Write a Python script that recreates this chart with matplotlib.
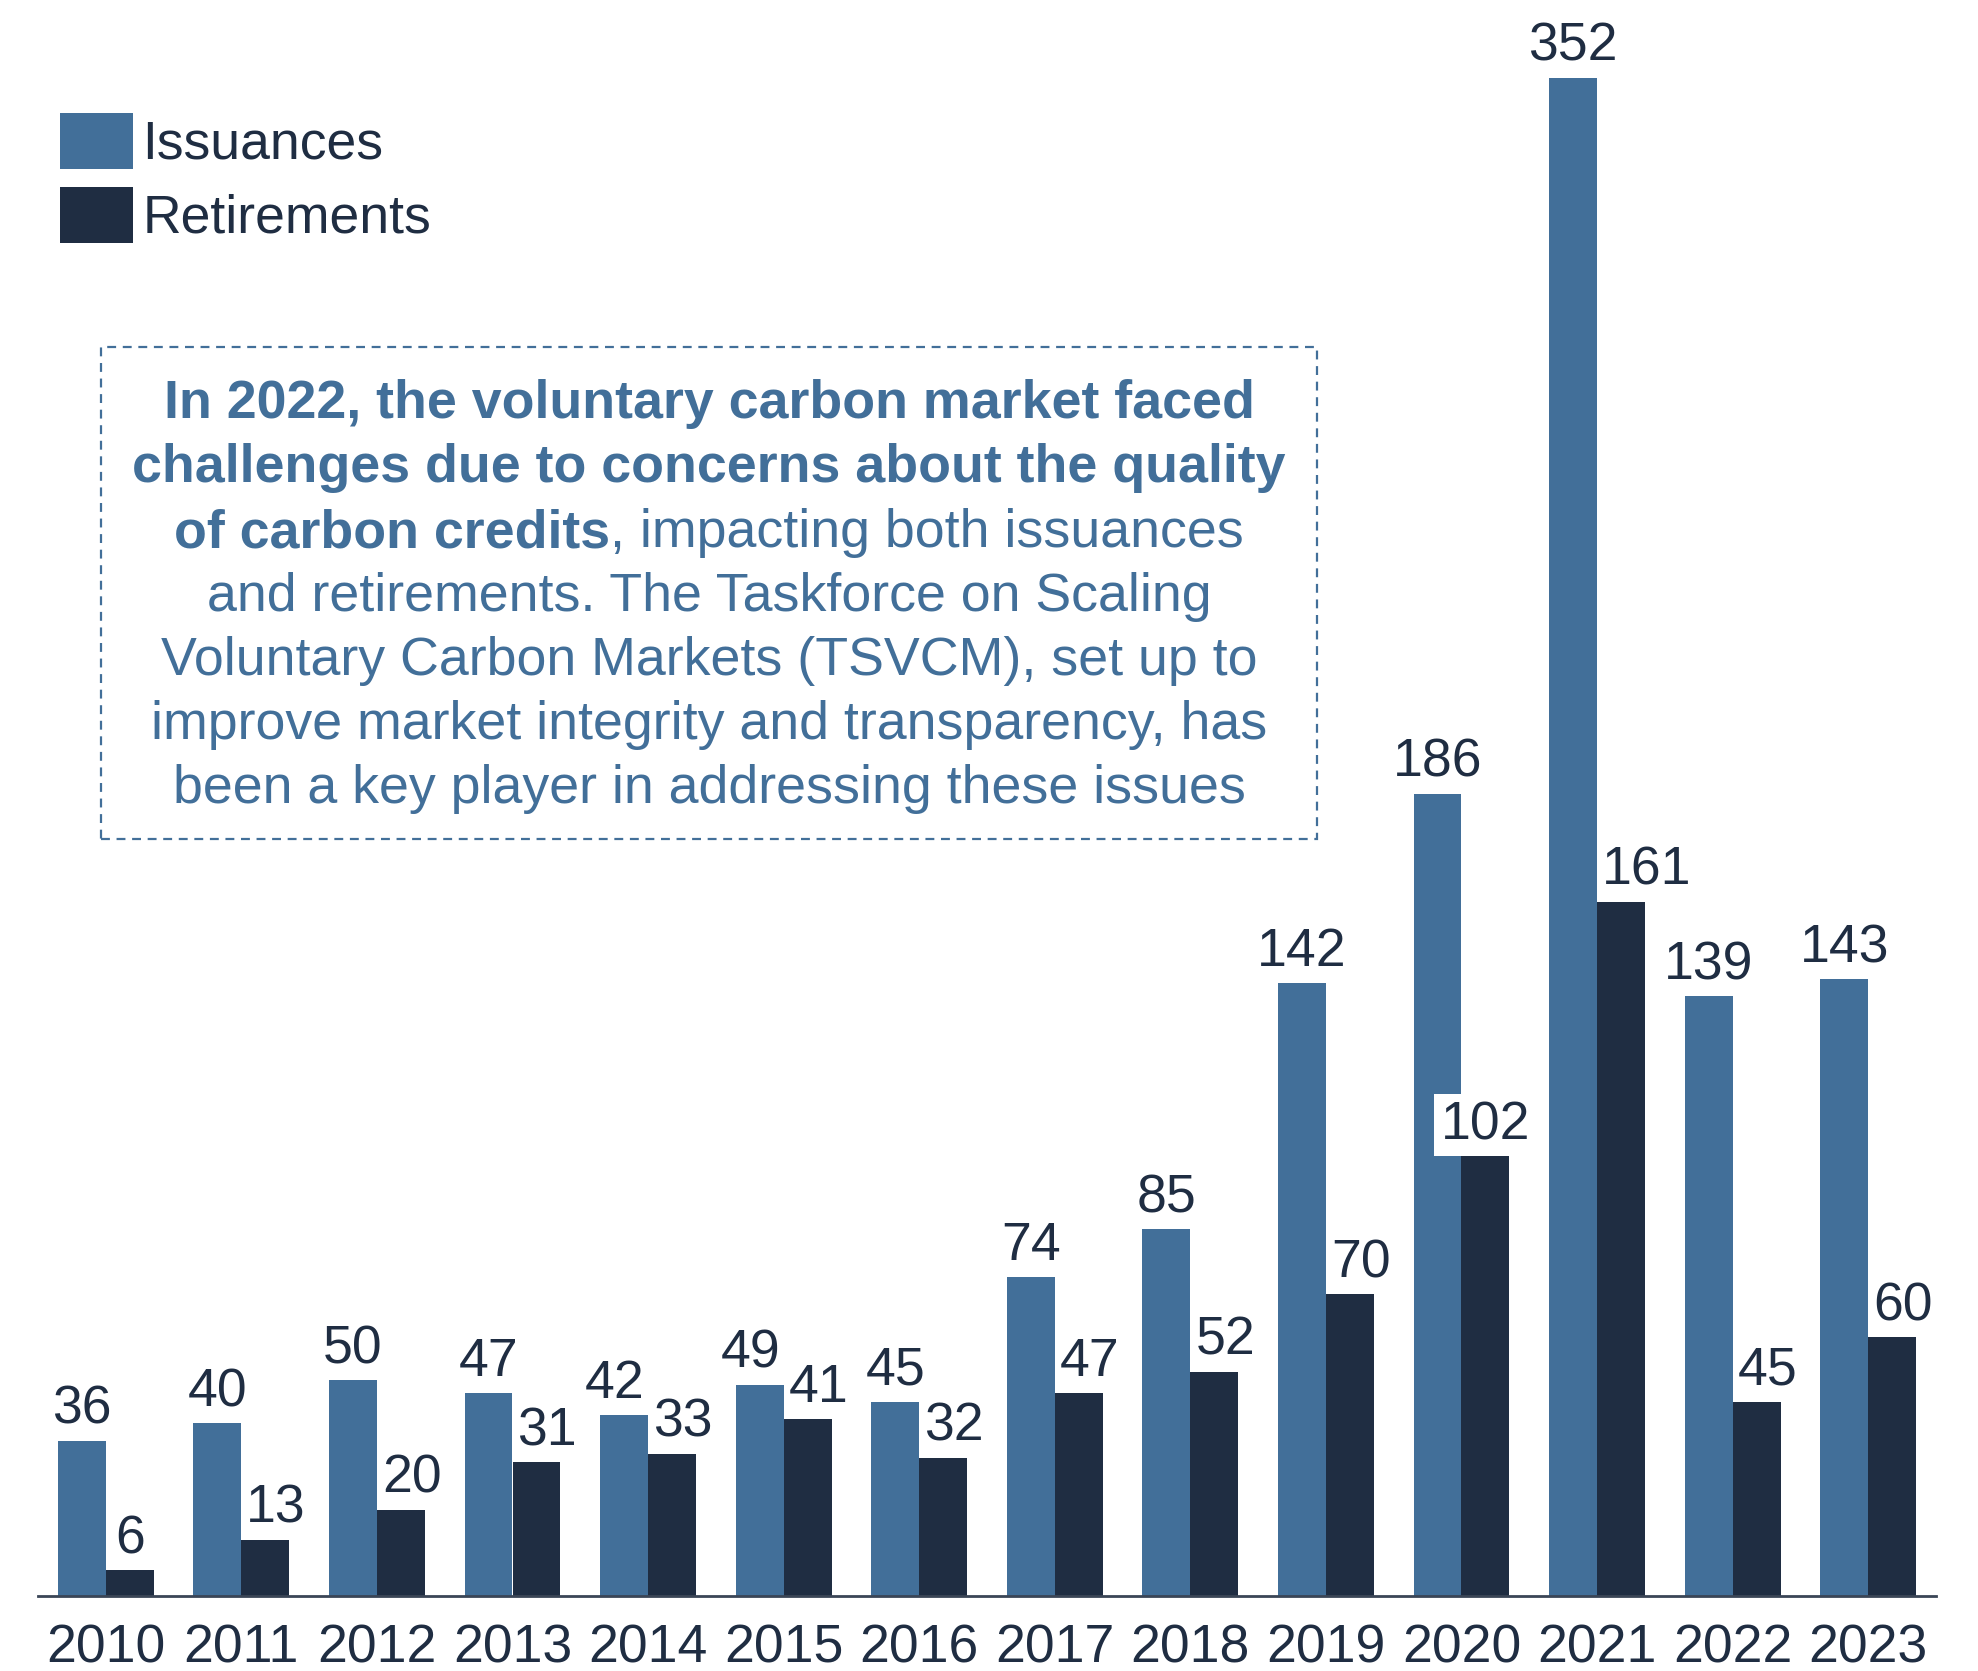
import matplotlib.pyplot as plt
import matplotlib.patches as patches
import numpy as np

plt.rcParams['font.family'] = ['Liberation Sans', 'DejaVu Sans']

years = ['2010', '2011', '2012', '2013', '2014', '2015', '2016',
         '2017', '2018', '2019', '2020', '2021', '2022', '2023']
issuances = [36, 40, 50, 47, 42, 49, 45, 74, 85, 142, 186, 352, 139, 143]
retirements = [6, 13, 20, 31, 33, 41, 32, 47, 52, 70, 102, 161, 45, 60]

blue = '#426f99'
navy = '#1f2d42'
fs = 38.5

W, H = 1978, 1671
fig = plt.figure(figsize=(W / 100, H / 100), dpi=100)
ax = fig.add_axes([38 / W, 1 - 1596 / H, (1936 - 38) / W, 1596 / H])

x = np.arange(len(years))
bw = 0.354
b1 = ax.bar(x - bw / 2, issuances, bw, color=blue, label='Issuances', zorder=2)
b2 = ax.bar(x + bw / 2, retirements, bw, color=navy, label='Retirements', zorder=2)

ax.set_xlim(-0.5, len(years) - 0.5)
ax.set_ylim(0, 370)

r = fig.canvas.get_renderer()
px_x = ax.transData.transform((1, 0))[0] - ax.transData.transform((0, 0))[0]
px_y = ax.transData.transform((0, 1))[1] - ax.transData.transform((0, 0))[1]
bw_px = bw * px_x
gap = 17  # px between bar top and label baseline
pt = 72 / 100

# issuance labels, nudged left when the retirement label sits right beside
for i, (rect, v) in enumerate(zip(b1, issuances)):
    dx = -9 if v - retirements[i] < 11 else 0
    ax.annotate(str(v), (rect.get_x() + rect.get_width() / 2, v),
                xytext=(dx * pt, gap * pt), textcoords='offset points',
                ha='center', va='baseline', fontsize=fs, color=navy, zorder=4)

# retirement labels, pushed right to clear the issuance bar
for i, (rect, v) in enumerate(zip(b2, retirements)):
    cx = rect.get_x() + rect.get_width() / 2
    t = ax.annotate(str(v), (cx, v), xytext=(0, gap * pt),
                    textcoords='offset points', ha='center', va='baseline',
                    fontsize=fs, color=navy, zorder=4)
    w = t.get_window_extent(r).width
    dx = max(0, w / 2 - bw_px / 2 + 5)
    if i + 1 < len(years):
        right = dx + w / 2
        nxt = bw_px / 2 + (1 - 2 * bw) * px_x
        if right > nxt and v * px_y + gap < issuances[i + 1] * px_y:
            dx = 0
            t.set_bbox(dict(boxstyle='square,pad=0.12', fc='white', ec='none'))
    t.xyann = (dx * pt, gap * pt)

ax.set_xticks(x)
ax.set_xticklabels(years, fontsize=fs, color=navy)
ax.tick_params(axis='x', length=0, pad=20)
ax.set_yticks([])
for s in ['top', 'right', 'left']:
    ax.spines[s].set_visible(False)
ax.spines['bottom'].set_color('#3a4556')
ax.spines['bottom'].set_linewidth(2)

leg = ax.legend(loc='upper left', bbox_to_anchor=(60 / W, 1 - 113 / H),
                bbox_transform=fig.transFigure, frameon=False, fontsize=fs,
                handlelength=1.36, handleheight=1.234, handletextpad=0.18,
                labelspacing=0.31, borderpad=0, borderaxespad=0)
for t in leg.get_texts():
    t.set_color(navy)

# annotation box
box = patches.Rectangle((101 / W, 1 - 839 / H), (1317 - 101) / W, (839 - 347) / H,
                        transform=fig.transFigure, fill=False, ec=blue,
                        lw=1.6, ls=(0, (4, 3)))
fig.patches.append(box)

mid = 709
afs = 38.7
lines = [
    ('In 2022, the voluntary carbon market faced', 'bold', 404),
    ('challenges due to concerns about the quality', 'bold', 468),
    (None, None, 533),
    ('and retirements. The Taskforce on Scaling', 'normal', 597),
    ('Voluntary Carbon Markets (TSVCM), set up to', 'normal', 661),
    ('improve market integrity and transparency, has', 'normal', 725),
    ('been a key player in addressing these issues', 'normal', 789),
]
for txt, wt, y in lines:
    if txt is None:
        continue
    fig.text(mid / W, 1 - y / H, txt, ha='center', va='center',
             fontsize=afs, fontweight=wt, color=blue)

# mixed bold / regular line
y3 = 1 - 533 / H
t1 = fig.text(0, y3, 'of carbon credits', ha='left', va='center',
              fontsize=afs, fontweight='bold', color=blue)
t2 = fig.text(0, y3, ', impacting both issuances', ha='left', va='center',
              fontsize=afs, color=blue)
w1 = t1.get_window_extent(r).width
w2 = t2.get_window_extent(r).width
x0 = mid - (w1 + w2) / 2
t1.set_x(x0 / W)
t2.set_x((x0 + w1) / W)

fig.savefig('out.png', dpi=100)
